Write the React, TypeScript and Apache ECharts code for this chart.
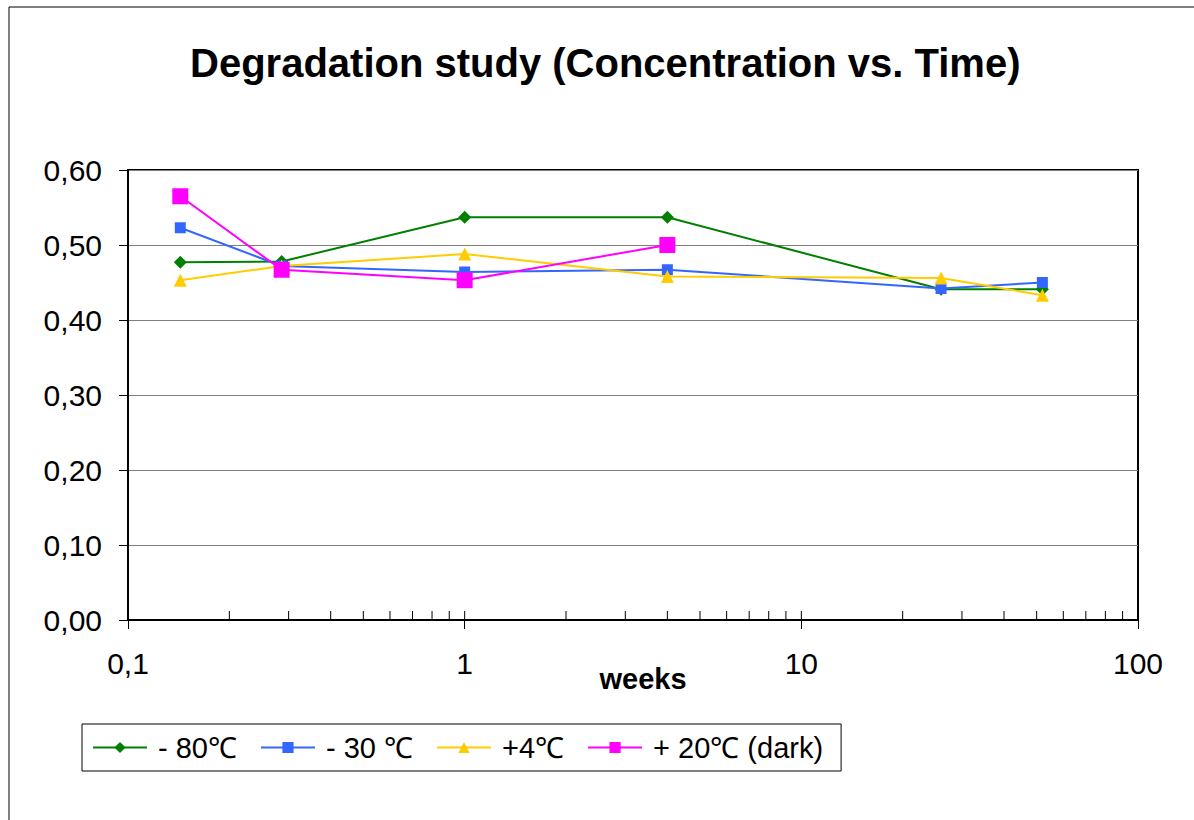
import React, { useEffect, useRef } from "react";
import * as echarts from "echarts";

const weeks = [0.143, 0.286, 1, 4, 26, 52];
const minus80 = [0.477, 0.478, 0.537, 0.537, 0.441, 0.441];
const minus30 = [0.523, 0.472, 0.464, 0.467, 0.442, 0.45];
const plus4 = [0.453, 0.472, 0.488, 0.458, 0.456, 0.433];
const plus20 = [0.565, 0.467, 0.453, 0.5];
const minorTicks = [0.2, 0.3, 0.4, 0.5, 0.6, 0.7, 0.8, 0.9, 1, 2, 3, 4, 5, 6, 7, 8, 9, 10, 20, 30, 40, 50, 60, 70, 80, 90];
const seriesNames = ["- 80℃", "- 30 ℃", "+4℃", "+ 20℃ (dark)"];

const FONT = "'Liberation Sans', Arial, sans-serif";

function pairs(xs: number[], ys: number[]) {
  return ys.map((y, i) => [xs[i], y]);
}

export default function App() {
  const ref = useRef<HTMLDivElement>(null);
  useEffect(() => {
    if (!ref.current) return;
    const chart = echarts.init(ref.current, null, { renderer: "svg" });
    chart.setOption({
      animation: false,
      backgroundColor: "#ffffff",
      textStyle: { fontFamily: FONT },
      title: {
        text: "Degradation study (Concentration vs. Time)",
        left: 185,
        top: 38,
        padding: 5,
        textStyle: { fontFamily: FONT, fontSize: 40, fontWeight: "bold", color: "#000" },
      },
      graphic: [
        {
          type: "rect",
          shape: { x: 9, y: 7, width: 1200, height: 900 },
          style: { fill: "none", stroke: "#000", lineWidth: 1 },
          silent: true,
          z: -10,
        },
      ],
      legend: {
        data: seriesNames,
        left: 82,
        top: 724,
        padding: [9, 18, 9, 10],
        itemGap: 23,
        itemWidth: 54,
        itemHeight: 14,
        borderColor: "#000",
        borderWidth: 1,
        textStyle: { fontFamily: FONT, fontSize: 29, color: "#000", padding: [0, 0, 0, 6] },
      },
      grid: {
        left: 128,
        right: 56,
        top: 170,
        bottom: 200,
        show: true,
        borderColor: "#000",
        borderWidth: 2,
        backgroundColor: "#fff",
      },
      xAxis: {
        type: "log",
        logBase: 10,
        min: 0.1,
        max: 100,
        name: "weeks",
        nameLocation: "middle",
        nameGap: 44,
        nameMoveOverlap: false,
        nameTextStyle: { fontFamily: FONT, fontSize: 29, fontWeight: "bold", color: "#000", padding: [0, 0, 0, 20] },
        axisLine: { show: true, onZero: false, lineStyle: { color: "#000", width: 2 } },
        axisTick: { show: true, inside: false, length: 9, lineStyle: { color: "#000", width: 1 } },
        axisLabel: {
          margin: 28,
          fontFamily: FONT,
          fontSize: 30,
          color: "#000",
          formatter: (v: number) => String(v).replace(".", ","),
        },
        splitLine: { show: false },
      },
      yAxis: {
        type: "value",
        min: 0,
        max: 0.6,
        interval: 0.1,
        axisLine: { show: true, lineStyle: { color: "#000", width: 2 } },
        axisTick: { show: true, inside: false, length: 9, lineStyle: { color: "#000" } },
        axisLabel: {
          margin: 26,
          fontFamily: FONT,
          fontSize: 30,
          color: "#000",
          formatter: (v: number) => v.toFixed(2).replace(".", ","),
        },
        splitLine: { show: true, lineStyle: { color: "#7f7f7f", width: 1 } },
      },
      series: [
        {
          type: "custom",
          name: "minorTicks",
          silent: true,
          coordinateSystem: "cartesian2d",
          data: minorTicks.map((v) => [v, 0]),
          renderItem: (_params: any, api: any) => {
            const p = api.coord([api.value(0), 0]);
            return {
              type: "line",
              shape: { x1: p[0], y1: p[1], x2: p[0], y2: p[1] - 9 },
              style: { stroke: "#000", lineWidth: 1 },
            };
          },
          z: 1,
        },
        {
          name: seriesNames[0],
          type: "line",
          data: pairs(weeks, minus80),
          symbol: "diamond",
          symbolSize: 13,
          lineStyle: { color: "#008000", width: 2 },
          itemStyle: { color: "#008000" },
          z: 3,
        },
        {
          name: seriesNames[1],
          type: "line",
          data: pairs(weeks, minus30),
          symbol: "rect",
          symbolSize: 11,
          lineStyle: { color: "#3366ff", width: 2 },
          itemStyle: { color: "#3366ff" },
          z: 4,
        },
        {
          name: seriesNames[2],
          type: "line",
          data: pairs(weeks, plus4),
          symbol: "triangle",
          symbolSize: 13,
          lineStyle: { color: "#ffcc00", width: 2 },
          itemStyle: { color: "#ffcc00" },
          z: 5,
        },
        {
          name: seriesNames[3],
          type: "line",
          data: pairs(weeks, plus20),
          symbol: "rect",
          symbolSize: 16,
          lineStyle: { color: "#ff00ff", width: 2 },
          itemStyle: { color: "#ff00ff" },
          z: 6,
        },
      ],
    });
    return () => chart.dispose();
  }, []);
  return (
    <div
      ref={ref}
      style={{ position: "fixed", left: 0, top: 0, width: 1194, height: 820, background: "#fff" }}
    />
  );
}
